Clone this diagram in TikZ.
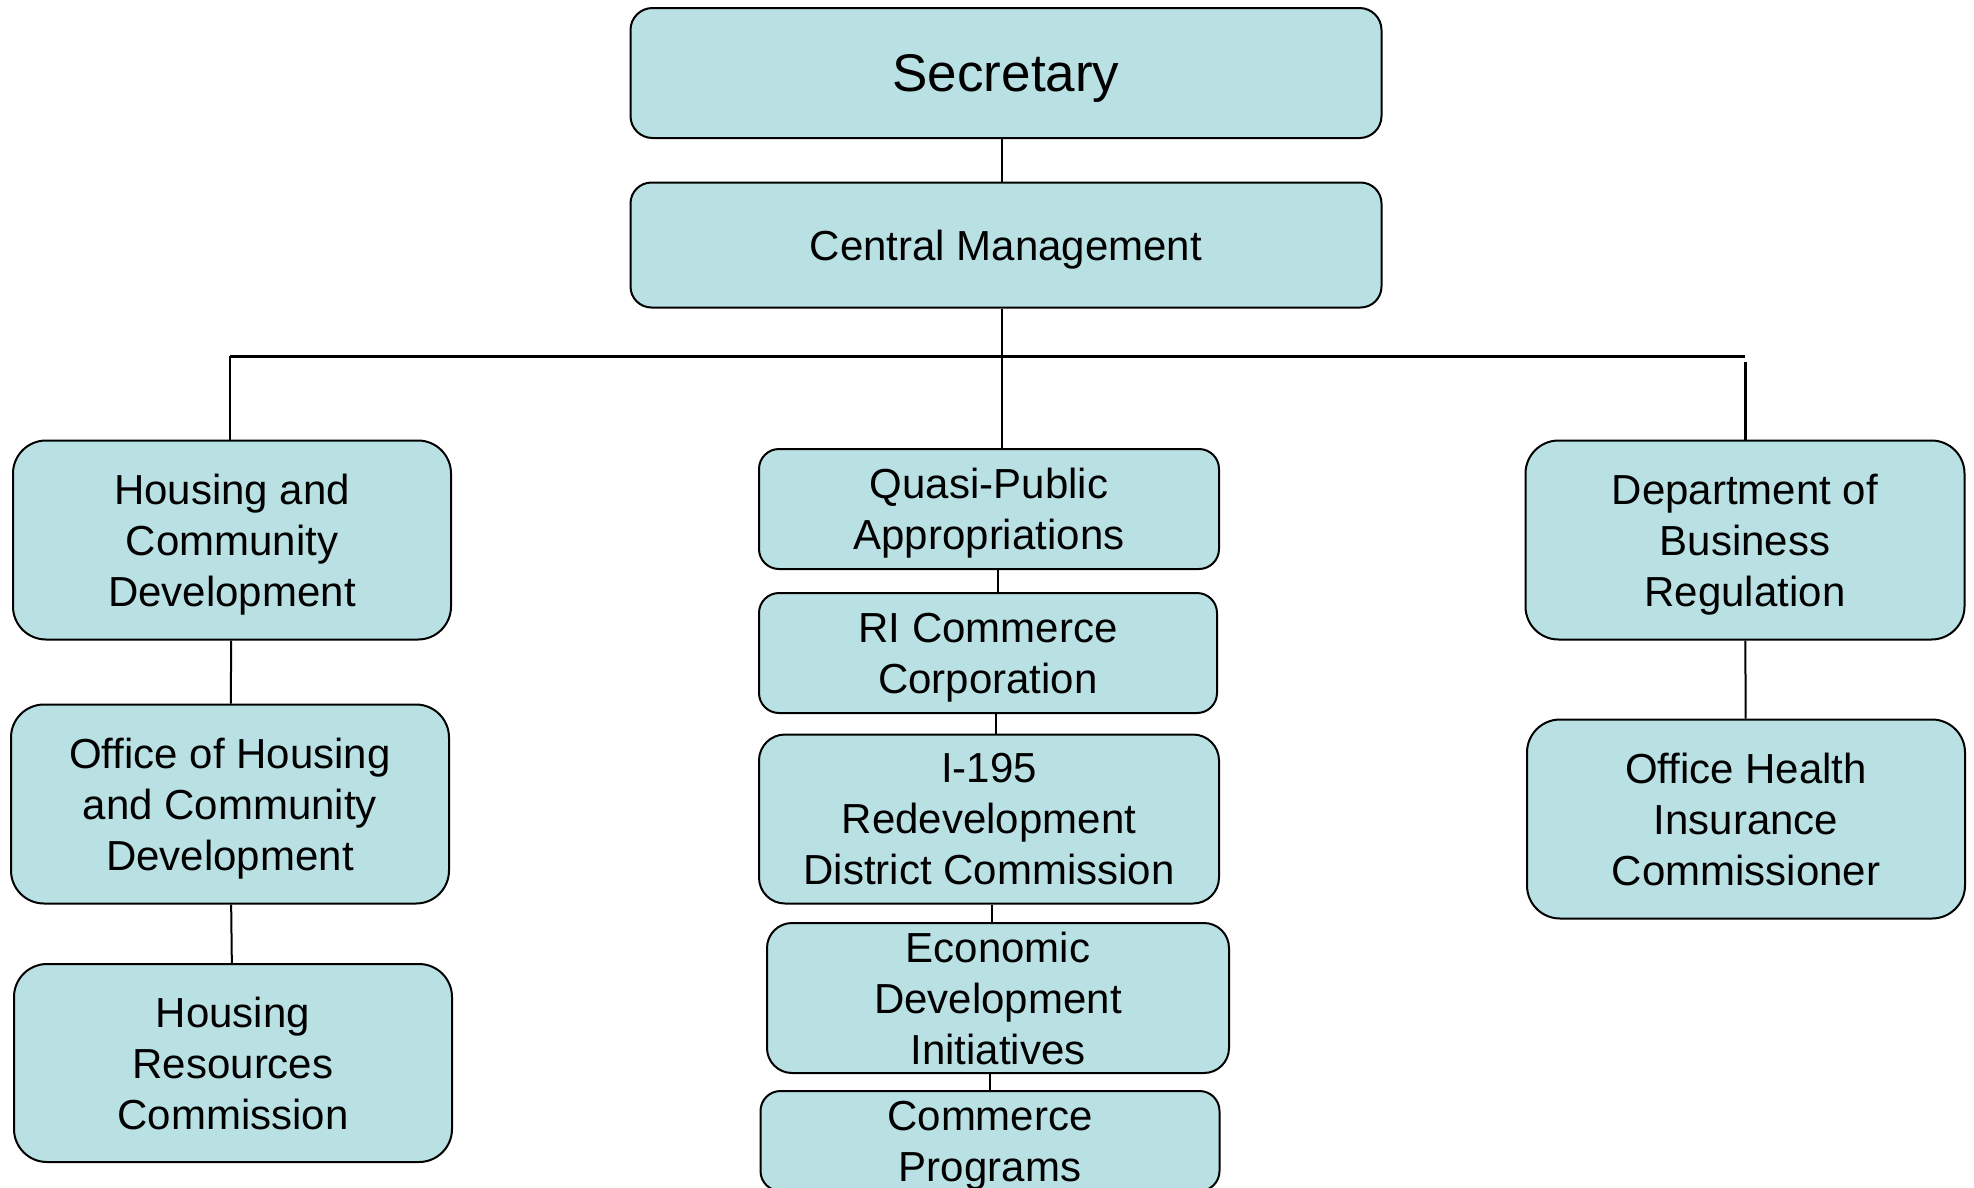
\documentclass[tikz,border=0pt]{standalone}
\usepackage{fontspec}
\setmainfont{Liberation Sans}
\definecolor{unitfill}{RGB}{185,224,227}
\begin{document}
\begin{tikzpicture}[x=1pt, y=-1pt,
        unit/.style={draw=black, line width=2pt, fill=unitfill, rounded corners=#1, inner sep=0pt, align=center,
                     text depth=0pt, font=\fontsize{42}{51}\selectfont},
        unit/.default=33pt,
        link/.style={line width=2pt}]
        \useasboundingbox[fill=white] (0,0) rectangle (1974,1187);

        % Draw top of the chart
        \node[unit=22pt, minimum width=751pt, minimum height=130pt, font=\fontsize{53}{60}\selectfont] (sec) at (1006,73) {Secretary};
        \node[unit=21pt, minimum width=751pt, minimum height=125pt] (cm) at (1006,245) {Central Management};

        % Draw left branch
        \node[unit, minimum width=438pt, minimum height=199pt] (hcd) at (232,540) {Housing and\\Community\\Development};
        \node[unit, minimum width=438pt, minimum height=199pt] (ohcd) at (230,804) {Office of Housing\\and Community\\Development};
        \node[unit, minimum width=438pt, minimum height=198pt] (hrc) at (233,1063) {Housing\\Resources\\Commission};

        % Draw middle branch
        \node[unit=20pt, minimum width=460pt, minimum height=120pt] (quasi) at (989,509) {Quasi-Public\\Appropriations};
        \node[unit=20pt, minimum width=458pt, minimum height=120pt] (ricc) at (988,653) {RI Commerce\\Corporation};
        \node[unit=26pt, minimum width=460pt, minimum height=169pt] (idc) at (989,819) {I-195\\Redevelopment\\District Commission};
        \node[unit=25pt, minimum width=462pt, minimum height=150pt] (edi) at (998,998) {Economic\\Development\\Initiatives};
        \node[unit=20pt, minimum width=459pt, minimum height=100pt] (comm) at (990,1141) {Commerce\\Programs};

        % Draw right branch
        \node[unit, minimum width=439pt, minimum height=199pt] (dbr) at (1745,540) {Department of\\Business\\Regulation};
        \node[unit, minimum width=438pt, minimum height=199pt] (ohic) at (1746,819) {Office Health\\Insurance\\Commissioner};

        % Draw connectors
        \coordinate (barl) at (230,356);
        \coordinate (barr) at (1745,356);
        \draw[line width=3pt] (barl) -- (barr);
        \draw[link] ([xshift=-4pt]sec.south) -- ([xshift=-4pt]cm.north);
        \draw[link] ([xshift=-4pt]cm.south) -- ([xshift=-4pt]cm.south |- quasi.north);
        \draw[link] (barl) -- (barl |- hcd.north);
        \draw[line width=3pt] ([yshift=-6pt]barr) -- (barr |- dbr.north);
        \draw[link] (hcd) -- (ohcd);
        \draw[link] (ohcd) -- (hrc);
        \draw[link] ([xshift=9pt]quasi.south) -- ([xshift=9pt]quasi.south |- ricc.north);
        \draw[link] ([xshift=8pt]ricc.south) -- ([xshift=8pt]ricc.south |- idc.north);
        \draw[link] ([xshift=3pt]idc.south) -- ([xshift=3pt]idc.south |- edi.north);
        \draw[link] ([xshift=-8pt]edi.south) -- ([xshift=-8pt]edi.south |- comm.north);
        \draw[link] (dbr) -- (ohic);

    \end{tikzpicture}
\end{document}
